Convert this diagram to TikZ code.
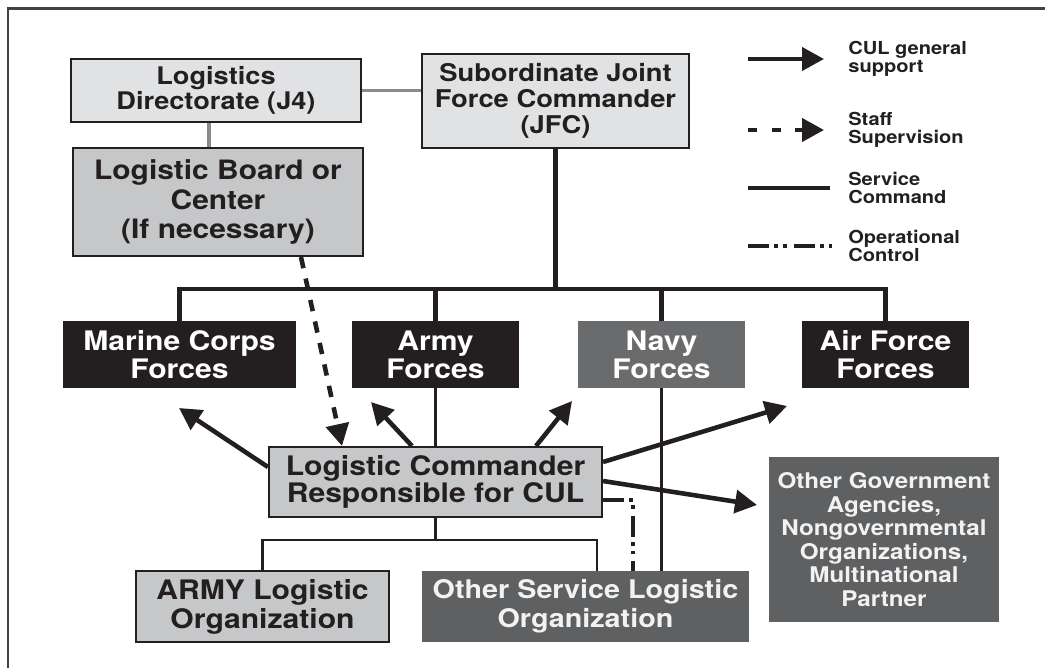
\documentclass[tikz,border=0pt]{standalone}
\usepackage{fontspec}
\setmainfont{TeX Gyre Heros}[FakeStretch=1.12]
\usetikzlibrary{arrows.meta,calc}

\definecolor{inkblack}{HTML}{231F20}
\definecolor{palegray}{HTML}{E1E2E3}
\definecolor{midgray}{HTML}{C6C7C9}
\definecolor{navygray}{HTML}{6A6B6D}
\definecolor{deepgray}{HTML}{5F6062}
\definecolor{linkgray}{HTML}{8A8B8D}

\newcommand{\boxfont}[2]{\fontsize{#1}{#2}\selectfont\bfseries}

\tikzset{
  wh/.style 2 args={minimum width=#1*0.02cm, minimum height=#2*0.02cm},
  orgbox/.style={inner sep=0pt, align=center, font=\boxfont{15.3}{15.9}},
  lightbox/.style={orgbox, fill=palegray, draw=inkblack, line width=1.2pt, text=inkblack},
  midbox/.style={orgbox, fill=midgray, draw=inkblack, line width=1.2pt, text=inkblack},
  blackbox/.style={orgbox, fill=inkblack, text=white},
  navybox/.style={orgbox, fill=navygray, text=white},
  darkbox/.style={orgbox, fill=deepgray, text=white!95!black},
  legtext/.style={inner sep=0pt, align=left, anchor=west, text=inkblack, font=\boxfont{10.2}{10.4}},
  cmdline/.style={draw=inkblack, line width=2.3pt},
  svcline/.style={draw=inkblack, line width=1.4pt},
  grayline/.style={draw=linkgray, line width=1.9pt},
  cularrow/.style={draw=inkblack, line width=2.6pt, -{Triangle[length=12.5pt,width=13pt]}},
  staffarrow/.style={cularrow, dash pattern=on 6.5pt off 6pt},
  opline/.style={draw=inkblack, line width=2pt, dash pattern=on 12pt off 3pt on 2pt off 3pt on 2pt off 4pt}
}

\begin{document}
\begin{tikzpicture}[x=0.02cm, y=-0.02cm]
  \useasboundingbox (0,0) rectangle (1045,667);
  % Frame
  \draw[line width=1.3pt, inkblack!85] (1050,8.5) -- (8,8.5) -- (8,672);

  % Joint staff
  \node[lightbox, wh={290}{63}, font=\boxfont{13.8}{14.2}] (logdir) at (216,90.5) {Logistics\\Directorate (J4)};
  \node[lightbox, wh={267}{94}, font=\boxfont{13.9}{14.7}] (jfc) at (555.5,101) {Subordinate Joint\\Force Commander\\(JFC)};
  \node[midbox, wh={290}{108}, font=\boxfont{15.2}{17}] (board) at (218,202) {Logistic Board or\\Center\\(If necessary)};
  \draw[grayline] (logdir.east) -- (jfc.west |- logdir.east);
  \coordinate (j4foot) at ($(logdir.south)+(-7,0)$);
  \draw[grayline] (j4foot) -- (j4foot |- board.north);

  % Service forces
  \node[blackbox, wh={233}{67}] (marine) at (179.5,354.5) {Marine Corps\\Forces};
  \node[blackbox, wh={167}{67}] (army) at (435.5,354.5) {Army\\Forces};
  \node[navybox, wh={167}{67}] (navy) at (661.5,354.5) {Navy\\Forces};
  \node[blackbox, wh={167}{67}] (air) at (885.5,354.5) {Air Force\\Forces};
  \coordinate (bus) at (560,289);
  \draw[cmdline] (jfc.south) -- (jfc.south |- bus);
  \draw[cmdline] (marine.north) |- (bus) -| (air.north);
  \draw[cmdline] (army.north) -- (army.north |- bus);
  \draw[cmdline] (navy.north) -- (navy.north |- bus);

  % Logistic commander and organizations
  \node[midbox, wh={333}{70}, font=\boxfont{15.3}{14}] (lc) at (435.5,482) {Logistic Commander\\Responsible for CUL};
  \node[midbox, wh={253}{71}, font=\boxfont{15.3}{16.4}] (armylog) at (262.5,606.5) {ARMY Logistic\\Organization};
  \node[darkbox, wh={327}{71}, font=\boxfont{14.6}{16.4}] (otherlog) at (585.5,606.5) {Other Service Logistic\\Organization};
  \node[darkbox, wh={230}{165}, font=\boxfont{12.3}{13.4}] (ogov) at (884,539.5) {Other Government\\Agencies,\\Nongovernmental\\Organizations,\\Multinational\\Partner};

  % Service command
  \draw[svcline] (army.south) -- (lc.north);
  \draw[svcline] (navy.south) -- (navy.south |- otherlog.north);
  \coordinate (lowbus) at (435.5,540);
  \coordinate (osljoin) at (597,571);
  \draw[svcline] (lc.south) -- (lowbus);
  \draw[svcline] (armylog.north) |- (lowbus) -| (osljoin);

  % Operational control
  \coordinate (opjoin) at (633,571);
  \draw[opline] ($(lc.east)+(0,18)$) -| (opjoin);

  % CUL general support
  \coordinate (tipmarine) at (179,408);
  \coordinate (tiparmy) at (371,402);
  \coordinate (tipnavy) at (572,401);
  \coordinate (tipair) at (787,406);
  \coordinate (tipogov) at (757,505);
  \draw[cularrow] ($(lc.west)+(0,-15)$) -- (tipmarine);
  \draw[cularrow] ($(lc.north)+(-23.5,0)$) -- (tiparmy);
  \draw[cularrow] ($(lc.north)+(100.5,0)$) -- (tipnavy);
  \draw[cularrow] ($(lc.east)+(0,-20)$) -- (tipair);
  \draw[cularrow] ($(lc.east)+(0,-1)$) -- (tipogov);

  % Staff supervision
  \draw[staffarrow] ($(board.south)+(83,0)$) -- ($(lc.north)+(-93.5,0)$);

  % Legend
  \node[legtext] (legcul) at (848,59) {CUL general\\support};
  \node[legtext] (legstaff) at (848,130) {Staff\\Supervision};
  \node[legtext] (legsvc) at (848,188) {Service\\Command};
  \node[legtext] (legop) at (848,246) {Operational\\Control};
  \draw[cularrow] ($(legcul.west)+(-100,0)$) -- ($(legcul.west)+(-24,0)$);
  \draw[staffarrow, dash pattern=on 5pt off 8.5pt] ($(legstaff.west)+(-100,0)$) -- ($(legstaff.west)+(-24,0)$);
  \draw[svcline, line width=2.3pt] ($(legsvc.west)+(-100,0)$) -- ($(legsvc.west)+(-18,0)$);
  \draw[opline, line width=2.3pt] ($(legop.west)+(-100,0)$) -- ($(legop.west)+(-15,0)$);
\end{tikzpicture}
\end{document}
